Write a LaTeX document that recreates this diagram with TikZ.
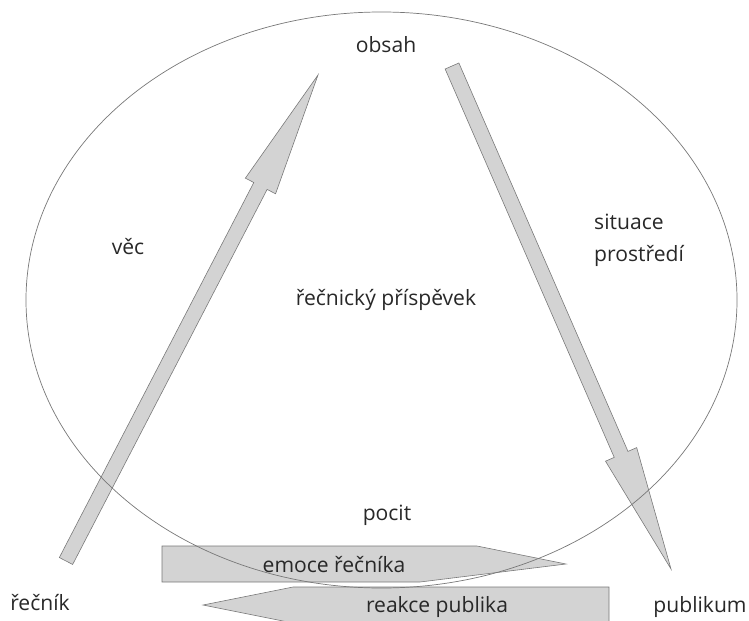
\documentclass[tikz,border=0pt]{standalone}
\usepackage{fontspec}
\setmainfont{Open Sans}
\usetikzlibrary{calc}
\definecolor{arrowGray}{RGB}{211,211,211}
\definecolor{edgeGray}{RGB}{120,120,120}
\definecolor{textGray}{RGB}{40,40,40}
% block arrow from tail #1 to tip #2
\newcommand{\fatarrow}[2]{%
  \coordinate (hb) at ($(#2)!37.5mm!(#1)$);
  \path[blockarrow]
    ($(#1)!2.25mm!90:(#2)$) --
    ($(hb)!2.25mm!-90:(#1)$) --
    ($(hb)!5.1mm!-90:(#1)$) --
    (#2) --
    ($(hb)!5.1mm!90:(#1)$) --
    ($(hb)!2.25mm!90:(#1)$) --
    ($(#1)!2.25mm!-90:(#2)$) -- cycle;
}

\begin{document}
\begin{tikzpicture}[
    x=0.3mm, y=-0.3mm,
    blockarrow/.style={draw=edgeGray, fill=arrowGray, line width=0.5pt, line join=miter},
    ring/.style={draw=edgeGray, line width=0.6pt},
    mylabel/.style={font=\fontsize{18}{27}\selectfont, text=textGray, inner sep=0pt},
  ]
  \useasboundingbox (0,0) rectangle (749,621);

  % arrow ends
  \coordinate (vecTail) at (66,561);
  \coordinate (vecTip) at (318,75);
  \coordinate (sitTail) at (452,66);
  \coordinate (sitTip) at (671,569);

  % block arrows
  \fatarrow{vecTail}{vecTip}
  \fatarrow{sitTail}{sitTip}
  \path[blockarrow] (162,546) -- (477,546) -- (566,564) -- (420,582) -- (162,582) -- cycle;
  \path[blockarrow] (609,587) -- (293,587) -- (203,605) -- (293,623) -- (609,623) -- cycle;

  % ellipse
  \draw[ring] (381.5,300) ellipse [x radius=106.65mm, y radius=86.4mm];

  % labels
  \node[mylabel] (obsah) at (386,45) {obsah};
  \node[mylabel] (vec) at (128,247) {věc};
  \node[mylabel] (prispevek) at (386,300) {řečnický příspěvek};
  \node[mylabel, align=left, anchor=west] (situace) at (594,240) {situace\\prostředí};
  \node[mylabel] (pocit) at (387,515) {pocit};
  \node[mylabel] (emoce) at (334,565) {emoce řečníka};
  \node[mylabel] (reakce) at (437,607) {reakce publika};
  \node[mylabel] (recnik) at (40,603) {řečník};
  \node[mylabel] (publikum) at (700,607) {publikum};
\end{tikzpicture}
\end{document}
